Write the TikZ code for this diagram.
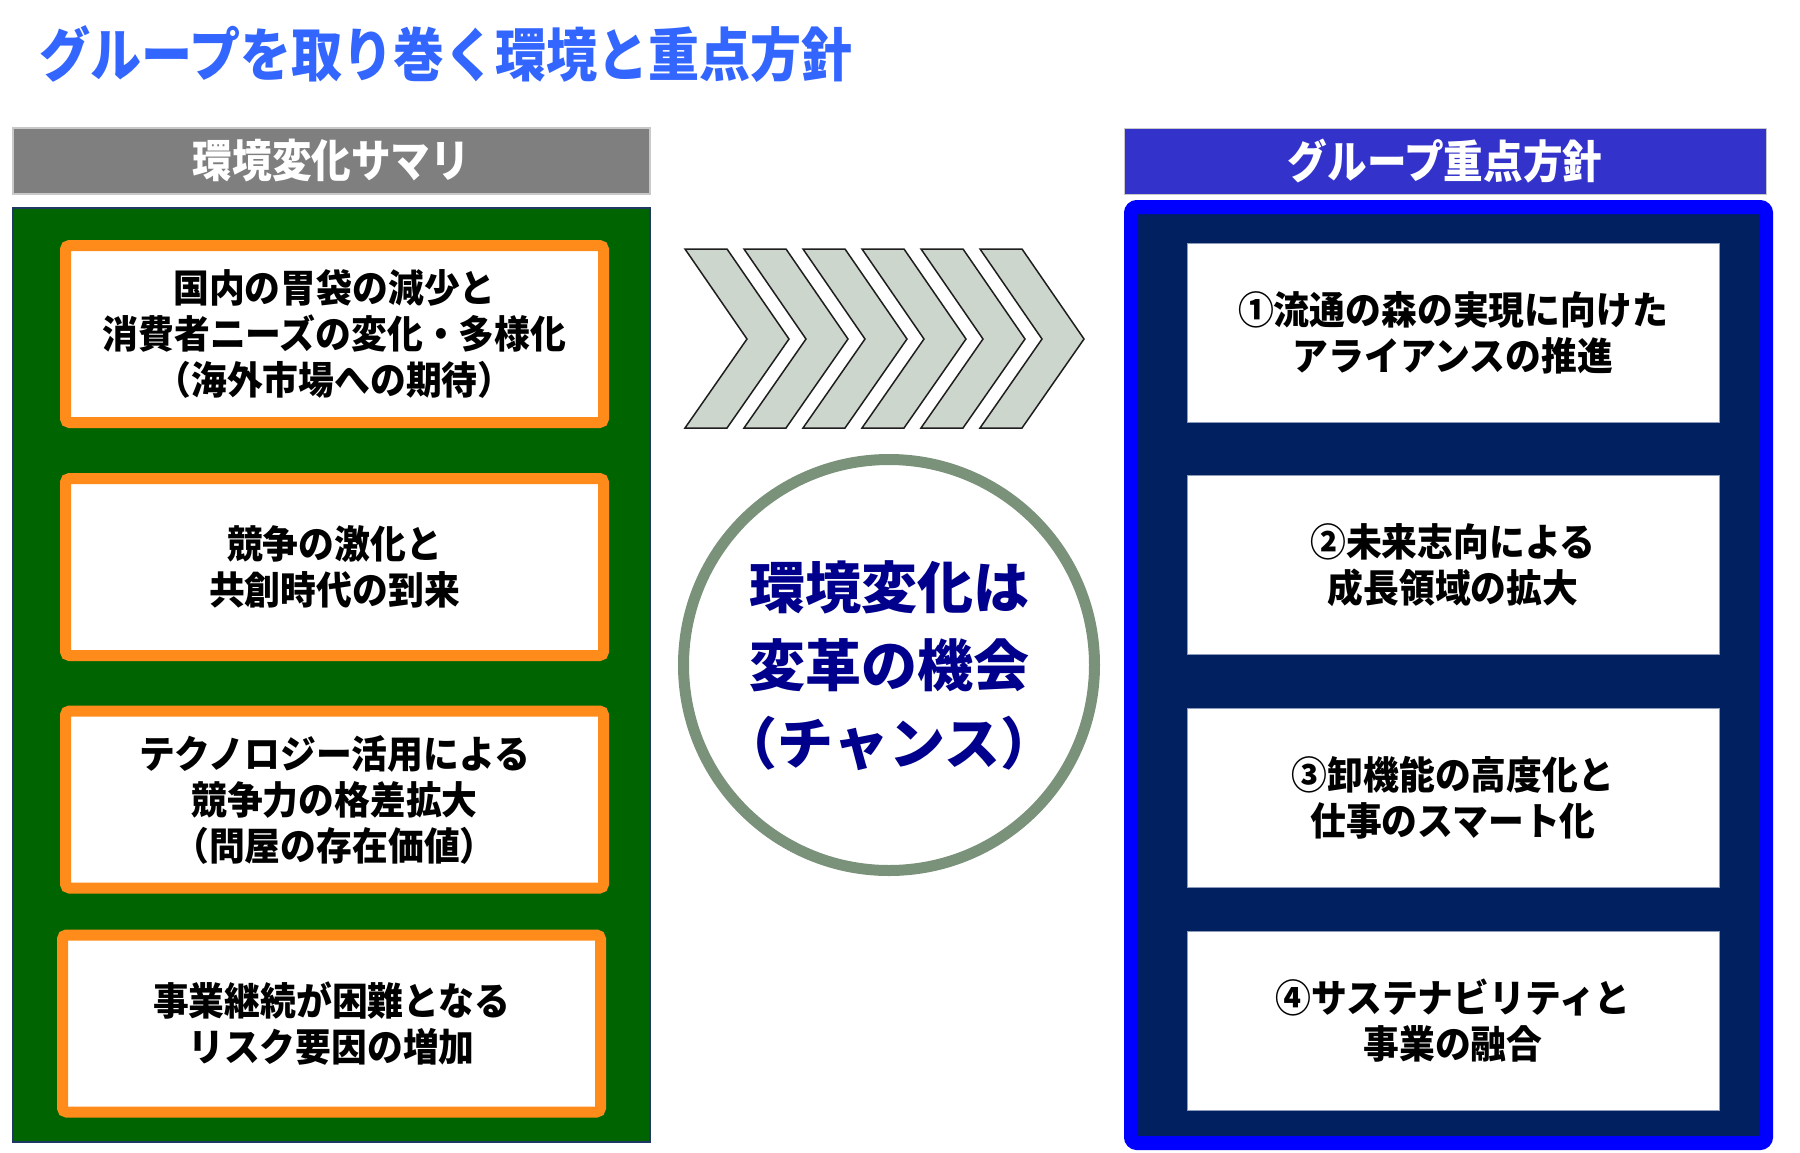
\documentclass[tikz,border=0pt]{standalone}
\usepackage{fontspec}
\setmainfont{Noto Sans CJK JP}
\newfontfamily\jpnarrow{Noto Sans CJK JP}[FakeStretch=0.88]
\newfontfamily\jpitem{Noto Sans CJK JP}[FakeStretch=0.93]
\definecolor{titleblue}{RGB}{51,102,255}
\definecolor{hdrgrey}{RGB}{127,127,127}
\definecolor{hdrgreyedge}{RGB}{200,200,200}
\definecolor{panelgreen}{RGB}{0,100,0}
\definecolor{panelgreenedge}{RGB}{31,56,100}
\definecolor{boxorange}{RGB}{255,140,26}
\definecolor{hdrblue}{RGB}{51,51,204}
\definecolor{brightblue}{RGB}{0,0,255}
\definecolor{navy}{RGB}{0,32,96}
\definecolor{wboxedge}{RGB}{140,155,185}
\definecolor{chevfill}{RGB}{205,214,205}
\definecolor{chevline}{RGB}{30,30,30}
\definecolor{circgreen}{RGB}{122,145,122}
\definecolor{chancetext}{RGB}{0,0,140}
\begin{document}
\begin{tikzpicture}[x=1pt,y=-1pt,
  titletext/.style={font=\jpnarrow\bfseries\fontsize{58}{66}\selectfont, text=titleblue, inner sep=0pt},
  hdrbox/.style={minimum width=637pt, minimum height=66pt, inner sep=0pt,
     font=\jpnarrow\bfseries\fontsize{45}{50}\selectfont, text=white},
  itemtext/.style={font=\jpitem\bfseries\fontsize{38.5}{46}\selectfont, align=center, inner sep=0pt},
  obox/.style={draw=boxorange, line width=11pt, fill=white, rounded corners=4pt,
     minimum width=538pt, minimum height=177pt, itemtext},
  wbox/.style={draw=wboxedge, line width=1pt, fill=white,
     minimum width=532pt, minimum height=179pt, itemtext},
  chev/.style={fill=chevfill, draw=chevline, line width=1.5pt, line join=miter},
]
\useasboundingbox (0,0) rectangle (1800,1152);
\fill[white] (0,0) rectangle (1800,1152);

% title
\node[titletext] (title) at (446,54) {グループを取り巻く環境と重点方針};

% left header and panel
\node[hdrbox, fill=hdrgrey, draw=hdrgreyedge, line width=1.5pt] (lhdr) at (331.5,161) {環境変化サマリ};
\draw[fill=panelgreen, draw=panelgreenedge, line width=1.5pt] (13,208) rectangle (650,1142);

\node[obox] (l1) at (334.5,334) {国内の胃袋の減少と\\消費者ニーズの変化・多様化\\（海外市場への期待）};
\node[obox] (l2) at (334.5,567) {競争の激化と\\共創時代の到来};
\node[obox] (l3) at (334.5,799.5) {テクノロジー活用による\\競争力の格差拡大\\（問屋の存在価値）};
\node[obox] (l4) at (331.5,1023.5) {事業継続が困難となる\\リスク要因の増加};

% chevrons
\foreach \i in {0,...,5}{
  \pgfmathsetmacro{\xo}{685+59*\i}
  \draw[chev] (\xo,249) -- (\xo+42,249) -- (\xo+104,339) -- (\xo+42,428) -- (\xo,428) -- (\xo+62,339) -- cycle;
}

% circle
\node[circle, draw=circgreen, line width=11pt, fill=white, minimum size=411pt, inner sep=0pt] (chance) at (889,665) {};
\node[font=\bfseries\fontsize{56}{78}\selectfont, text=chancetext, align=center, inner sep=0pt] (chancetxt) at (889,666) {環境変化は\\変革の機会\\（チャンス）};

% right header and panel
\node[hdrbox, minimum width=642pt, fill=hdrblue, draw=hdrgreyedge, line width=1pt] (rhdr) at (1445,161) {グループ重点方針};
\draw[fill=navy, draw=brightblue, line width=14pt, rounded corners=6pt] (1131,207) rectangle (1766,1143);

\node[wbox] (r1) at (1453,332.5) {①流通の森の実現に向けた\\アライアンスの推進};
\node[wbox] (r2) at (1453,565) {②未来志向による\\成長領域の拡大};
\node[wbox] (r3) at (1453,797.5) {③卸機能の高度化と\\仕事のスマート化};
\node[wbox] (r4) at (1453,1021) {④サステナビリティと\\事業の融合};
\end{tikzpicture}
\end{document}
